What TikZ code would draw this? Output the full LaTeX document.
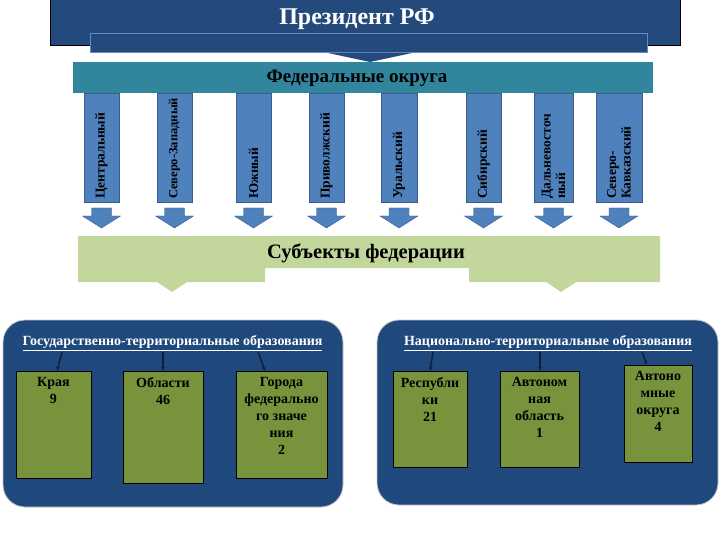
\documentclass[tikz,border=0pt]{standalone}
\usepackage{fontspec}
\setmainfont{Liberation Serif}
\usetikzlibrary{arrows.meta}
\definecolor{presblue}{RGB}{35,73,125}
\definecolor{innerline}{RGB}{95,140,200}
\definecolor{tealbar}{RGB}{49,133,156}
\definecolor{colblue}{RGB}{79,129,189}
\definecolor{colline}{RGB}{56,93,138}
\definecolor{greenbar}{RGB}{195,214,155}
\definecolor{panelblue}{RGB}{31,73,125}
\definecolor{panelline}{RGB}{200,200,200}
\definecolor{olive}{RGB}{119,147,60}
\definecolor{connblue}{RGB}{15,30,60}
\begin{document}
\begin{tikzpicture}[x=1pt,y=-1pt,
  every node/.style={inner sep=0pt,outer sep=0pt},
  presbox/.style={draw=black,line width=0.8pt,fill=presblue},
  innerbox/.style={draw=innerline,line width=0.6pt,fill=presblue},
  tealbox/.style={fill=tealbar},
  colbox/.style={fill=colblue,draw=colline,line width=0.4pt},
  coltext/.style={font=\bfseries\fontsize{13.5}{14.5}\selectfont,align=left,text=black},
  arrowshape/.style={fill=colblue,draw=colline,line width=0.4pt},
  bigtitle/.style={font=\bfseries\fontsize{24}{26}\selectfont,text=white},
  bartitle/.style={font=\bfseries\fontsize{19}{22}\selectfont,text=black},
  subtitle/.style={font=\bfseries\fontsize{20.5}{23}\selectfont,text=black},
  panelbox/.style={draw=panelline,line width=0.8pt,fill=panelblue,rounded corners=22pt},
  ptitle/.style={font=\bfseries\fontsize{14}{16}\selectfont,text=white},
  obox/.style={draw=black,line width=0.8pt,fill=olive},
  otext/.style={font=\bfseries\fontsize{14}{17}\selectfont,align=center,text=black,anchor=north},
  conn/.style={draw=connblue,line width=1.4pt,-{Latex[length=4pt,width=4pt]}}
]
\useasboundingbox (0,0) rectangle (720,540);

% President
\node[presbox,minimum width=630pt,minimum height=46pt,anchor=north west] (pres) at (50,-1) {};
\node[innerbox,minimum width=557pt,minimum height=19pt,anchor=north west] (presinner) at (90,33) {};
\node[bigtitle] (prest) at (357,19) {Президент РФ};
\fill[presblue] (328,53) -- (412,53) -- (370,62) -- cycle;

% Federal districts bar
\node[tealbox,minimum width=580pt,minimum height=31pt,anchor=north west] (fed) at (73,62) {};
\node[bartitle] (fedt) at (357,78) {Федеральные округа};

% Columns and arrows
\foreach \n/\a/\b/\t in {1/84/119/{Центральный},2/157/192/{\fontsize{12.5}{14}\selectfont Северо-Западный},3/236/271/{Южный},4/309/344/{Приволжский},5/381/417/{Уральский},6/466/501/{Сибирский},7/534/573/{Дальневосточ\\ный},8/596/642/{Северо-\\Кавказский}}{
  \pgfmathsetmacro\cx{(\a+\b)/2}
  \pgfmathsetmacro\cw{\b-\a}
  \node[colbox,minimum width=\cw pt,minimum height=109pt,anchor=north] (col\n) at (\cx,93) {};
  \node[coltext,rotate=90,anchor=west] (colt\n) at (\cx,199) {\t};
  \draw[arrowshape] (\cx-10,208) -- (\cx+10,208) -- (\cx+10,216) -- (\cx+19,216) -- (\cx,228) -- (\cx-19,216) -- (\cx-10,216) -- cycle;
}

% Subjects bar
\fill[greenbar] (78,236) -- (660,236) -- (660,282) -- (469,282) -- (469,268) -- (265,268) -- (265,282) -- (78,282) -- cycle;
\node[subtitle] (subt) at (366,253) {Субъекты федерации};
\fill[greenbar] (157,282) -- (187,282) -- (172,292) -- cycle;
\fill[greenbar] (546,282) -- (576,282) -- (561,292) -- cycle;

% Panels
\node[panelbox,minimum width=340pt,minimum height=187pt,anchor=north west] (lpanel) at (3,320) {};
\node[panelbox,minimum width=341pt,minimum height=185pt,anchor=north west] (rpanel) at (377,320) {};
\node[ptitle] (ltitle) at (172.5,343) {\underline{Государственно-территориальные образования}};
\node[ptitle] (rtitle) at (548,343) {\underline{Национально-территориальные образования}};

% Boxes
\node[obox,minimum width=75pt,minimum height=107pt,anchor=north west] (kraya) at (16,371) {};
\node[obox,minimum width=80pt,minimum height=112pt,anchor=north west] (obl) at (123,371) {};
\node[obox,minimum width=91pt,minimum height=107pt,anchor=north west] (gor) at (236,371) {};
\node[obox,minimum width=74pt,minimum height=96pt,anchor=north west] (resp) at (393,371) {};
\node[obox,minimum width=79pt,minimum height=96pt,anchor=north west] (ao) at (500,371) {};
\node[obox,minimum width=68pt,minimum height=97pt,anchor=north west] (aok) at (624,365) {};

\node[otext] (krayat) at (kraya.north) [yshift=-6pt] {Края\\9};
\node[otext] (oblt) at (obl.north) [yshift=-6pt] {Области\\46};
\node[otext] (gort) at (gor.north) [yshift=-6pt] {Города\\федерально\\го значе\\ния\\2};
\node[otext] (respt) at (resp.north) [yshift=-6pt] {Республи\\ки\\21};
\node[otext] (aot) at (ao.north) [yshift=-6pt] {Автоном\\ная\\область\\1};
\node[otext] (aokt) at (aok.north) [yshift=-6pt] {Автоно\\мные\\округа\\4};

% Connectors
\coordinate (s1) at (62,352);  \coordinate (e1) at (57,371);
\coordinate (s2) at (163,352); \coordinate (e2) at (163,371);
\coordinate (s3) at (258,352); \coordinate (e3) at (265,371);
\coordinate (s4) at (433,352); \coordinate (e4) at (430,371);
\coordinate (s5) at (540,352); \coordinate (e5) at (540,371);
\coordinate (s6) at (642,352); \coordinate (e6) at (647,365);
\foreach \i in {1,...,6}{\draw[conn] (s\i) -- (e\i);}
\end{tikzpicture}
\end{document}
